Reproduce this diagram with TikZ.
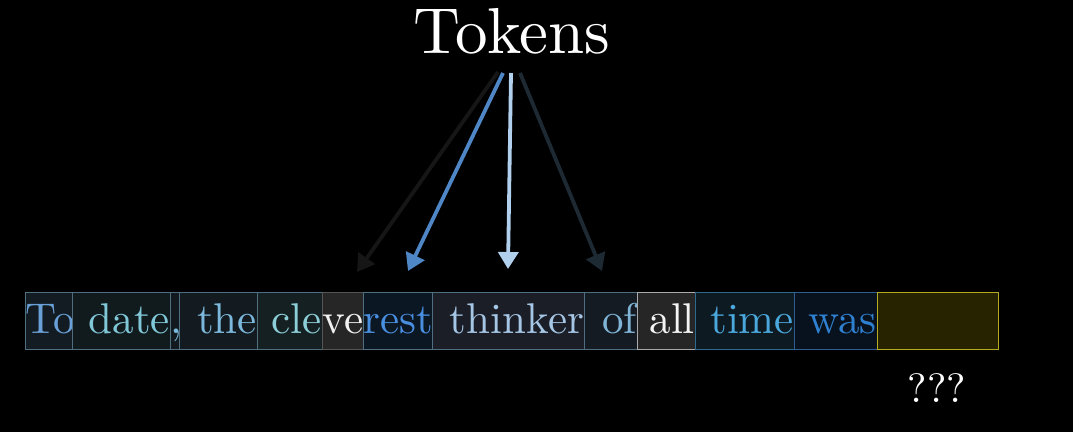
\documentclass[tikz,border=0pt]{standalone}
\usepackage{fontspec}
\setmainfont{lmroman10-regular.otf}
\usetikzlibrary{arrows.meta}

\definecolor{edgeblue}{HTML}{4F6F80}
\definecolor{arrowA}{HTML}{161616}
\definecolor{arrowB}{HTML}{4F86C6}
\definecolor{arrowC}{HTML}{B0D0EE}
\definecolor{arrowD}{HTML}{1E2A33}

\tikzset{
  tok/.style={draw=edgeblue, line width=0.8pt, inner xsep=0.5pt, inner ysep=0pt,
    text height=41pt, text depth=16pt, align=right,
    font=\fontsize{43}{46}\selectfont},
  ptr/.style={line width=3.8pt, -{Triangle[length=17pt,width=20pt]}}
}

\begin{document}
\begin{tikzpicture}[x=1pt,y=-1pt]
  \fill[black] (0,0) rectangle (1073,432);
  \useasboundingbox (0,0) rectangle (1073,432);

  % heading
  \node[text=white, inner sep=0pt, anchor=base, font=\fontsize{65}{70}\selectfont]
    (tokens) at (512,53) {Tokens};

  % token boxes, each sized to its slice of the sentence
  \node[tok, fill={rgb,255:red,18;green,28;blue,34}, text={rgb,255:red,106;green,160;blue,216},
        text width=46pt, anchor=north west] (t1) at (25,292) {To};
  \node[tok, fill={rgb,255:red,17;green,27;blue,30}, text={rgb,255:red,128;green,200;blue,216},
        text width=97pt, anchor=north west] (t2) at (72,292) {date};
  \node[tok, fill={rgb,255:red,18;green,26;blue,32}, text={rgb,255:red,122;green,184;blue,216},
        text width=8pt, align=center, anchor=north west] (t3) at (170,292) {,};
  \node[tok, fill={rgb,255:red,19;green,27;blue,32}, text={rgb,255:red,124;green,184;blue,220},
        text width=77pt, anchor=north west] (t4) at (179,292) {the};
  \node[tok, fill={rgb,255:red,21;green,32;blue,34}, text={rgb,255:red,140;green,207;blue,216},
        text width=64pt, anchor=north west] (t5) at (257,292) {cle};
  \node[tok, draw={rgb,255:red,85;green,85;blue,85}, fill={rgb,255:red,38;green,38;blue,38},
        text={rgb,255:red,240;green,240;blue,240},
        text width=40pt, anchor=north west] (t6) at (322,292) {ve};
  \node[tok, fill={rgb,255:red,11;green,23;blue,34}, text={rgb,255:red,74;green,142;blue,224},
        text width=68pt, anchor=north west] (t7) at (363,292) {rest};
  \node[tok, fill={rgb,255:red,27;green,30;blue,38}, text={rgb,255:red,166;green,198;blue,230},
        text width=151pt, anchor=north west] (t8) at (432,292) {thinker};
  \node[tok, fill={rgb,255:red,20;green,27;blue,34}, text={rgb,255:red,128;green,180;blue,214},
        text width=52pt, anchor=north west] (t9) at (584,292) {of};
  \node[tok, draw={rgb,255:red,170;green,170;blue,170}, fill={rgb,255:red,38;green,38;blue,38},
        text={rgb,255:red,244;green,244;blue,244},
        text width=57pt, anchor=north west] (t10) at (637,292) {all};
  \node[tok, draw={rgb,255:red,46;green,106;blue,144}, fill={rgb,255:red,13;green,26;blue,34},
        text={rgb,255:red,74;green,168;blue,220},
        text width=98pt, anchor=north west] (t11) at (695,292) {time};
  \node[tok, draw={rgb,255:red,46;green,95;blue,144}, fill={rgb,255:red,7;green,18;blue,30},
        text={rgb,255:red,47;green,128;blue,208},
        text width=82pt, anchor=north west] (t12) at (794,292) {was};
  \node[tok, draw={rgb,255:red,181;green,171;blue,34}, fill={rgb,255:red,39;green,35;blue,0},
        text width=120pt, anchor=north west] (t13) at (877,292) {};

  % the unknown next token
  \node[text=white, inner sep=0pt, anchor=base, font=\fontsize{41}{44}\selectfont]
    (next) at (937,402) {???};

  % arrow ends above the boxes
  \coordinate (sA) at (498,72);
  \coordinate (sB) at (503,73);
  \coordinate (sC) at (511,73);
  \coordinate (sD) at (520,73);
  \coordinate (eA) at ([xshift=35pt]t6.north west |- 0,272);
  \coordinate (eB) at ([xshift=45pt]t7.north west |- 0,271);
  \coordinate (eC) at ([xshift=76pt]t8.north west |- 0,269);
  \coordinate (eD) at ([xshift=18pt]t9.north west |- 0,271);

  \draw[ptr, draw=arrowA, fill=arrowA] (sA) -- (eA);
  \draw[ptr, draw=arrowD, fill=arrowD] (sD) -- (eD);
  \draw[ptr, draw=arrowB, fill=arrowB] (sB) -- (eB);
  \draw[ptr, draw=arrowC, fill=arrowC] (sC) -- (eC);
\end{tikzpicture}
\end{document}
